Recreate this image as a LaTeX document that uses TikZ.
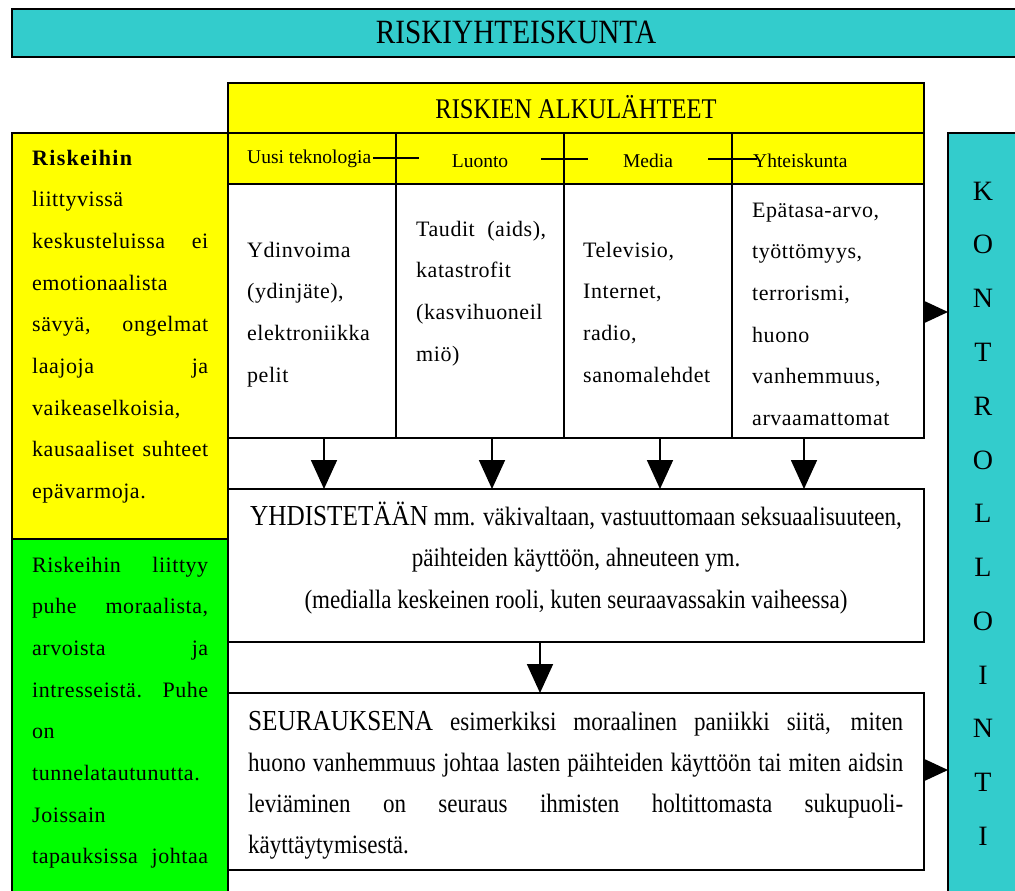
\documentclass[tikz,border=0pt]{standalone}
\usepackage{fontspec}
\setmainfont{Liberation Serif}
\newfontfamily\condf{Liberation Serif}[FakeStretch=0.87]
\newfontfamily\titlef{Liberation Serif}[FakeStretch=0.86]
\newfontfamily\spacedf{Liberation Serif}[LetterSpace=2.5]
\newfontfamily\boldsp{Liberation Serif Bold}[LetterSpace=6]
\usetikzlibrary{arrows.meta,calc}
\definecolor{tealbox}{RGB}{51,204,204}
\definecolor{yel}{RGB}{255,255,0}
\definecolor{grn}{RGB}{0,255,0}
\begin{document}
\begin{tikzpicture}[x=1pt,y=-1pt,
  box/.style={draw=black,line width=1.8pt,inner sep=0pt,outer sep=0pt,anchor=north west},
  txt/.style={inner sep=0pt,anchor=base west},
  ctxt/.style={inner sep=0pt,anchor=base},
  downarr/.style={line width=1.8pt,-{Triangle[width=26pt,length=29pt]}},
  rightarr/.style={line width=1.5pt,-{Triangle[width=22pt,length=24pt]}},
  conn/.style={line width=1.6pt}]
\useasboundingbox (0,0) rectangle (1015,891);
\fill[white] (0,0) rectangle (1015,891);
\clip (0,0) rectangle (1015,891);
% frames
\node[box,fill=tealbox,minimum width=1030pt,minimum height=48pt] (top) at (12,9) {};
\node[box,fill=yel,minimum width=696pt,minimum height=50pt] (src) at (228,83) {};
\node[box,fill=yel,minimum width=216pt,minimum height=406pt] (lefty) at (12,133) {};
\node[box,fill=grn,minimum width=216pt,minimum height=370pt] (leftg) at (12,539) {};
\node[box,fill=tealbox,minimum width=90pt,minimum height=770pt] (kon) at (948,133) {};
\node[box,fill=yel,minimum width=168pt,minimum height=51pt] (h1) at (228,133) {};
\node[box,fill=yel,minimum width=168pt,minimum height=51pt] (h2) at (396,133) {};
\node[box,fill=yel,minimum width=168pt,minimum height=51pt] (h3) at (564,133) {};
\node[box,fill=yel,minimum width=192pt,minimum height=51pt] (h4) at (732,133) {};
\node[box,fill=white,minimum width=168pt,minimum height=254pt] (c1) at (228,184) {};
\node[box,fill=white,minimum width=168pt,minimum height=254pt] (c2) at (396,184) {};
\node[box,fill=white,minimum width=168pt,minimum height=254pt] (c3) at (564,184) {};
\node[box,fill=white,minimum width=192pt,minimum height=254pt] (c4) at (732,184) {};
\node[box,fill=white,minimum width=696pt,minimum height=153pt] (yh) at (228,489) {};
\node[box,fill=white,minimum width=696pt,minimum height=177pt] (seur) at (228,693) {};
% titles
\node[ctxt] (ttop) at (516,44) {\titlef\fontsize{34}{36}\selectfont RISKIYHTEISKUNTA};
\node[ctxt] (tsrc) at (576,118) {\titlef\fontsize{28.5}{30}\selectfont RISKIEN ALKULÄHTEET};
% header row
\node[txt] (th1) at (247,163) {\fontsize{19.5}{22}\selectfont Uusi teknologia};
\node[ctxt] (th2) at (480,167) {\fontsize{19.5}{22}\selectfont Luonto};
\node[ctxt] (th3) at (648,167) {\fontsize{19.5}{22}\selectfont Media};
\node[txt] (th4) at (753,167) {\fontsize{19.5}{22}\selectfont Yhteiskunta};
\coordinate (ha1) at (373,158); \coordinate (hb1) at (419,158);
\coordinate (ha2) at (541,159); \coordinate (hb2) at (588,159);
\coordinate (ha3) at (708,159); \coordinate (hb3) at (757,159);
\draw[conn] (ha1) -- (hb1);
\draw[conn] (ha2) -- (hb2);
\draw[conn] (ha3) -- (hb3);
% column texts
\node[txt] (k1) at (247,257) {\parbox[t]{140pt}{\spacedf\fontsize{22}{41.7}\selectfont Ydinvoima\\(ydinjäte),\\elektroniikka\\pelit}};
\node[txt] (k2) at (416,236) {\parbox[t]{130pt}{\spacedf\fontsize{22}{41.7}\selectfont \makebox[\linewidth][s]{Taudit (aids),}\\katastrofit\\(kasvihuoneil\\miö)}};
\node[txt] (k3) at (583,257) {\parbox[t]{140pt}{\spacedf\fontsize{22}{41.7}\selectfont Televisio,\\Internet,\\radio,\\sanomalehdet}};
\node[txt] (k4) at (752,217) {\parbox[t]{165pt}{\spacedf\fontsize{22}{41.7}\selectfont Epätasa-arvo,\\työttömyys,\\terrorismi,\\huono\\vanhemmuus,\\arvaamattomat}};
% left texts
\node[txt] (ly) at (32,165) {\parbox[t]{176pt}{\spacedf\fontsize{22}{41.7}\selectfont
{\boldsp Riskeihin}\\
liittyvissä\\
\makebox[\linewidth][s]{keskusteluissa ei}\\
emotionaalista\\
\makebox[\linewidth][s]{sävyä, ongelmat}\\
\makebox[\linewidth][s]{laajoja ja}\\
vaikeaselkoisia,\\
\makebox[\linewidth][s]{kausaaliset suhteet}\\
epävarmoja.}};
\node[txt] (lg) at (32,572) {\parbox[t]{176pt}{\spacedf\fontsize{22}{41.7}\selectfont
\makebox[\linewidth][s]{Riskeihin liittyy}\\
\makebox[\linewidth][s]{puhe moraalista,}\\
\makebox[\linewidth][s]{arvoista ja}\\
\makebox[\linewidth][s]{intresseistä. Puhe}\\
on\\
tunnelatautunutta.\\
Joissain\\
\makebox[\linewidth][s]{tapauksissa johtaa}}};
% KONTROLLOINTI
\node[ctxt] (kt) at (983,200) {\parbox[t]{40pt}{\centering\fontsize{28}{53.8}\selectfont K\\O\\N\\T\\R\\O\\L\\L\\O\\I\\N\\T\\I}};
% YHDISTETAAN
\node[ctxt] (tyh) at (576,525) {\parbox[t]{690pt}{\centering\condf\fontsize{26.5}{41.7}\selectfont
{\fontsize{29}{41.7}\selectfont YHDISTETÄÄN} mm. väkivaltaan, vastuuttomaan seksuaalisuuteen,\\
päihteiden käyttöön, ahneuteen ym.\\
(medialla keskeinen rooli, kuten seuraavassakin vaiheessa)}};
% SEURAUKSENA
\node[txt] (tse) at (248,730) {\parbox[t]{655pt}{\condf\fontsize{26.5}{41.3}\selectfont
\makebox[\linewidth][s]{{\fontsize{29}{41.3}\selectfont SEURAUKSENA} esimerkiksi moraalinen paniikki siitä, miten}\\
\makebox[\linewidth][s]{huono vanhemmuus johtaa lasten päihteiden käyttöön tai miten aidsin}\\
\makebox[\linewidth][s]{leviäminen on seuraus ihmisten holtittomasta sukupuoli-}\\
käyttäytymisestä.}};
% arrows
\draw[downarr] ([xshift=12pt]c1.south) -- ([xshift=12pt]c1.south |- yh.north);
\draw[downarr] ([xshift=12pt]c2.south) -- ([xshift=12pt]c2.south |- yh.north);
\draw[downarr] ([xshift=12pt]c3.south) -- ([xshift=12pt]c3.south |- yh.north);
\draw[downarr] ([xshift=-24pt]c4.south) -- ([xshift=-24pt]c4.south |- yh.north);
\draw[downarr] ([xshift=-36pt]yh.south) -- ([xshift=-36pt]seur.north);
\draw[rightarr] ([yshift=-1pt]c4.east) -- ([yshift=-1pt]c4.east -| kon.west);
\draw[rightarr] ([yshift=11.5pt]seur.east) -- ([yshift=11.5pt]seur.east -| kon.west);
\end{tikzpicture}
\end{document}
